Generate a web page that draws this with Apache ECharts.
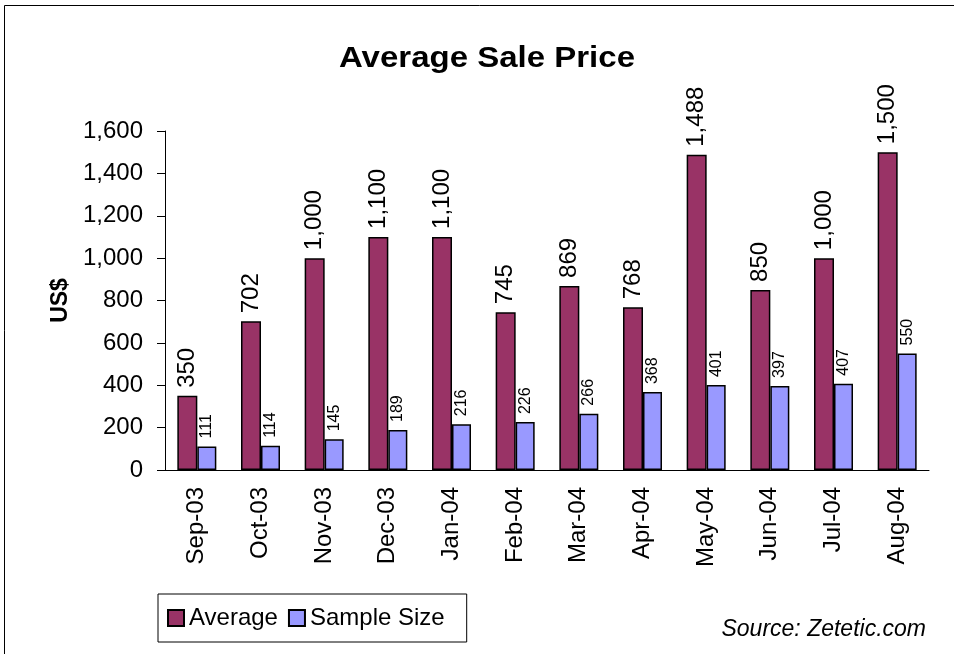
<!DOCTYPE html>
<html>
<head>
<meta charset="utf-8">
<script src="https://cdn.jsdelivr.net/npm/echarts@6/dist/echarts.min.js"></script>
<style>
  html, body { margin: 0; padding: 0; background: #fff; }
  #main { width: 954px; height: 654px; }
</style>
</head>
<body>
<div id="main"></div>
<script>
const months = ['Sep-03', 'Oct-03', 'Nov-03', 'Dec-03', 'Jan-04', 'Feb-04', 'Mar-04', 'Apr-04', 'May-04', 'Jun-04', 'Jul-04', 'Aug-04'];
const averagePrice = [350, 702, 1000, 1100, 1100, 745, 869, 768, 1488, 850, 1000, 1500];
const sampleSize = [111, 114, 145, 189, 216, 226, 266, 368, 401, 397, 407, 550];

const font = 'Liberation Sans, Arial, sans-serif';
const fmt = v => v.toLocaleString('en-US');

const chart = echarts.init(document.getElementById('main'));
chart.setOption({
  animation: false,
  textStyle: { fontFamily: font, color: '#000' },
  graphic: [{
    type: 'rect',
    shape: { x: 4.5, y: 5.5, width: 960, height: 660 },
    style: { fill: 'none', stroke: '#000', lineWidth: 1 },
    silent: true
  }, {
    // title is drawn a bit wide, like the original
    type: 'text',
    x: 487,
    y: 44,
    scaleX: 1.1,
    style: {
      text: 'Average Sale Price',
      font: 'bold 30px ' + font,
      fill: '#000',
      textAlign: 'center',
      textVerticalAlign: 'top'
    }
  }, {
    type: 'text',
    right: 28,
    top: 618,
    style: { text: 'Source: Zetetic.com', font: 'italic 23px ' + font, fill: '#000' }
  }],
  legend: {
    left: 158,
    top: 594,
    orient: 'horizontal',
    icon: 'rect',
    itemWidth: 16,
    itemHeight: 16,
    itemGap: 10,
    borderColor: '#000',
    borderWidth: 1,
    padding: [12, 22, 12, 9],
    textStyle: { fontFamily: font, fontSize: 24, color: '#000' },
    data: ['Average', 'Sample Size']
  },
  grid: { left: 165, right: 25, top: 131, bottom: 184 },
  xAxis: {
    type: 'category',
    data: months,
    axisLine: { lineStyle: { color: '#000', width: 1 } },
    axisTick: { length: 7, lineStyle: { color: '#000' } },
    axisLabel: { rotate: 90, fontSize: 24, color: '#000', margin: 17, interval: 0 }
  },
  yAxis: {
    type: 'value',
    min: 0,
    max: 1600,
    interval: 200,
    name: 'US$',
    nameLocation: 'middle',
    nameRotate: 90,
    nameGap: 54,
    nameTextStyle: { fontFamily: font, fontSize: 23, fontWeight: 'bold', color: '#000' },
    axisLine: { show: true, lineStyle: { color: '#000', width: 1 } },
    axisTick: { show: true, inside: false, length: 8, lineStyle: { color: '#000' } },
    splitLine: { show: false },
    axisLabel: { fontSize: 24, color: '#000', margin: 22, formatter: fmt }
  },
  series: [{
    name: 'Average',
    type: 'bar',
    data: averagePrice,
    barWidth: 20,
    barGap: '0%',
    itemStyle: { color: '#993366', borderColor: '#000', borderWidth: 1.5 },
    label: {
      show: true,
      position: 'top',
      rotate: 90,
      align: 'left',
      verticalAlign: 'middle',
      distance: 8,
      fontSize: 24,
      color: '#000',
      formatter: p => fmt(p.value)
    }
  }, {
    name: 'Sample Size',
    type: 'bar',
    data: sampleSize,
    barWidth: 19,
    itemStyle: { color: '#9999ff', borderColor: '#000', borderWidth: 1.5 },
    label: {
      show: true,
      position: 'top',
      rotate: 90,
      align: 'left',
      verticalAlign: 'middle',
      distance: 8,
      fontSize: 16,
      color: '#000'
    }
  }]
});
</script>
</body>
</html>
